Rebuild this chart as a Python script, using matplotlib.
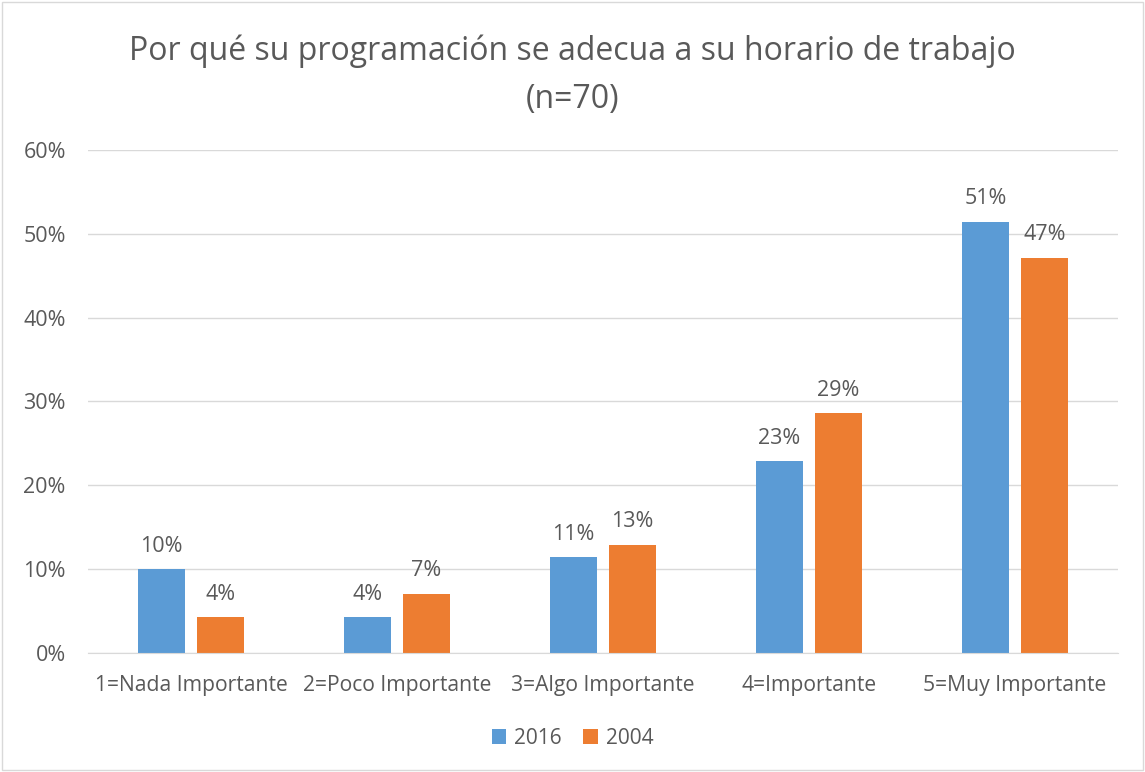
import matplotlib.pyplot as plt
import numpy as np

# Datos del gráfico
categorias = ['1=Nada Importante', '2=Poco Importante', '3=Algo Importante',
              '4=Importante', '5=Muy Importante']
valores_2016 = [10.0, 4.3, 11.4, 22.9, 51.4]
valores_2004 = [4.3, 7.1, 12.9, 28.6, 47.1]
etiquetas_2016 = ['10%', '4%', '11%', '23%', '51%']
etiquetas_2004 = ['4%', '7%', '13%', '29%', '47%']
series = ['2016', '2004']

azul = '#5B9BD5'
naranja = '#ED7D31'
texto = '#595959'

plt.rcParams['font.family'] = ['Open Sans', 'DejaVu Sans']

fig = plt.figure(figsize=(11.45, 7.72), dpi=100)
ax = fig.add_axes([0.0769, 0.154, 0.8996, 0.652])

x = np.arange(len(categorias))
ancho = 0.228
desp = 0.143
b1 = ax.bar(x - desp, valores_2016, ancho, color=azul, label=series[0])
b2 = ax.bar(x + desp, valores_2004, ancho, color=naranja, label=series[1])

for barras, etiquetas in [(b1, etiquetas_2016), (b2, etiquetas_2004)]:
    for barra, et in zip(barras, etiquetas):
        ax.annotate(et, (barra.get_x() + barra.get_width() / 2, barra.get_height()),
                    xytext=(0, 9), textcoords='offset points', ha='center',
                    va='bottom', fontsize=15.5, color=texto)

ax.set_xlim(-0.5, len(categorias) - 0.5)
ax.set_ylim(0, 60)
ax.set_yticks(range(0, 61, 10))
ax.set_yticklabels([f'{v}%' for v in range(0, 61, 10)])
ax.set_xticks(x)
ax.set_xticklabels(categorias)
ax.tick_params(axis='both', length=0, labelsize=15.5, labelcolor=texto)
ax.tick_params(axis='x', pad=16, labelsize=15.2)
ax.tick_params(axis='y', pad=16)
ax.grid(axis='y', color='#D9D9D9', linewidth=1)
ax.set_axisbelow(True)
for lado in ['top', 'right', 'left']:
    ax.spines[lado].set_visible(False)
ax.spines['bottom'].set_color('#D9D9D9')

fig.text(0.5, 0.903, 'Por qué su programación se adecua a su horario de trabajo\n(n=70)',
         ha='center', va='center', fontsize=23, color=texto, linespacing=1.6)

fig.legend(loc='center', bbox_to_anchor=(0.5, 0.044), ncol=2, frameon=False,
           fontsize=15, handlelength=0.7, handleheight=0.7, columnspacing=1.0,
           handletextpad=0.4, labelcolor=texto)

# Borde exterior del gráfico
fig.patches.append(plt.Rectangle((0.002, 0.002), 0.996, 0.996, transform=fig.transFigure,
                                 fill=False, edgecolor='#D9D9D9', linewidth=1))

fig.savefig('out.png', dpi=100)
